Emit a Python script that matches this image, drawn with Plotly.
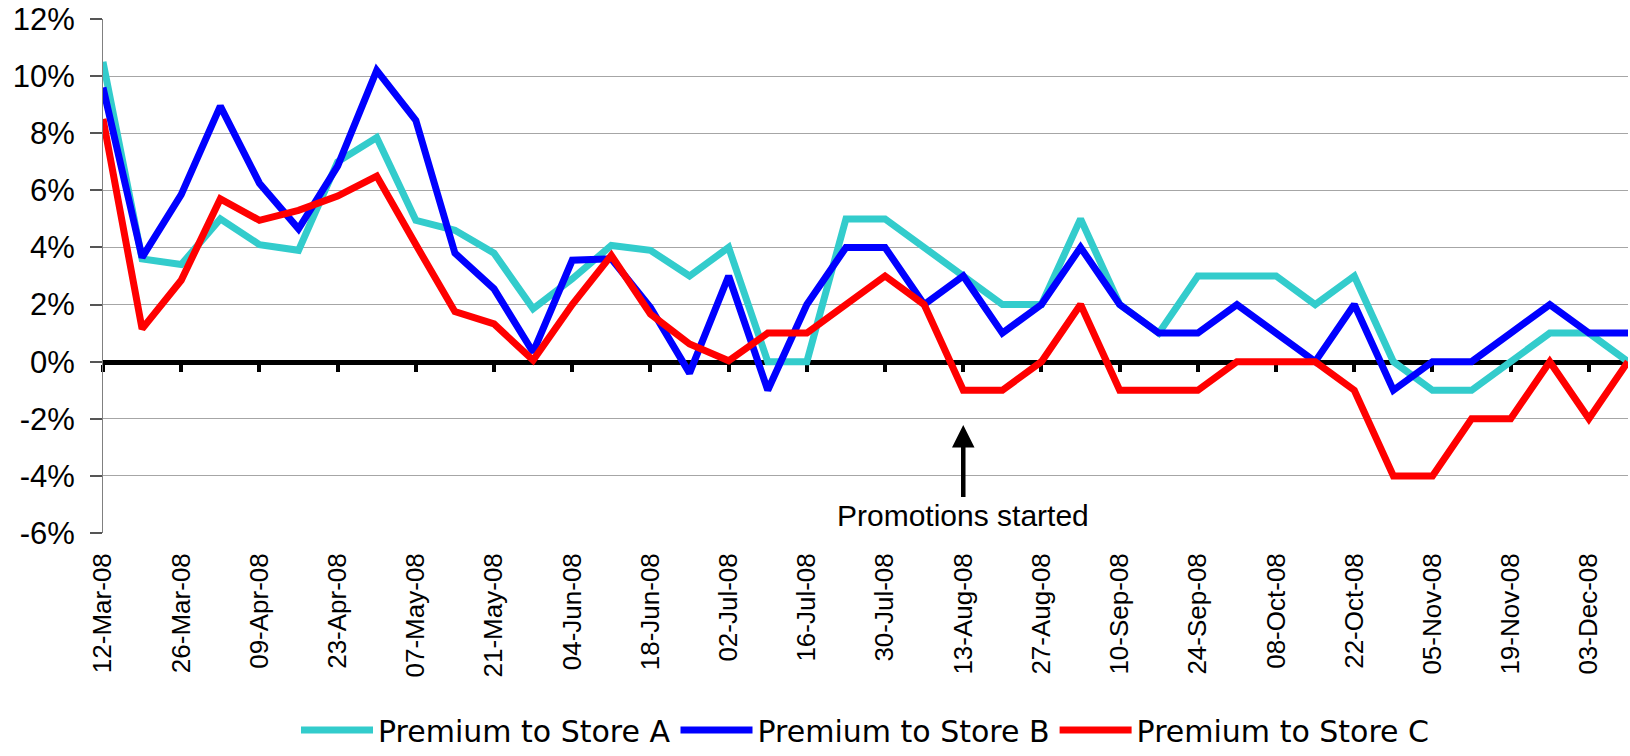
import plotly.graph_objects as go

weeks = ["2008-03-12", "2008-03-19", "2008-03-26", "2008-04-02", "2008-04-09",
         "2008-04-16", "2008-04-23", "2008-04-30", "2008-05-07", "2008-05-14",
         "2008-05-21", "2008-05-28", "2008-06-04", "2008-06-11", "2008-06-18",
         "2008-06-25", "2008-07-02", "2008-07-09", "2008-07-16", "2008-07-23",
         "2008-07-30", "2008-08-06", "2008-08-13", "2008-08-20", "2008-08-27",
         "2008-09-03", "2008-09-10", "2008-09-17", "2008-09-24", "2008-10-01",
         "2008-10-08", "2008-10-15", "2008-10-22", "2008-10-29", "2008-11-05",
         "2008-11-12", "2008-11-19", "2008-11-26", "2008-12-03", "2008-12-10"]

tick_labels = ["12-Mar-08", "26-Mar-08", "09-Apr-08", "23-Apr-08", "07-May-08",
               "21-May-08", "04-Jun-08", "18-Jun-08", "02-Jul-08", "16-Jul-08",
               "30-Jul-08", "13-Aug-08", "27-Aug-08", "10-Sep-08", "24-Sep-08",
               "08-Oct-08", "22-Oct-08", "05-Nov-08", "19-Nov-08", "03-Dec-08"]
tick_dates = weeks[::2]

store_a = [10.5, 3.6, 3.4, 5.0, 4.1, 3.9, 7.0, 7.85, 4.95, 4.6,
           3.8, 1.85, 2.9, 4.07, 3.9, 3.0, 4.0, 0.0, 0.0, 5.0,
           5.0, 4.0, 3.0, 2.0, 2.0, 5.0, 2.0, 1.0, 3.0, 3.0,
           3.0, 2.0, 3.0, 0.0, -1.0, -1.0, 0.0, 1.0, 1.0, 0.0]
store_b = [9.6, 3.65, 5.85, 8.95, 6.25, 4.65, 6.85, 10.2, 8.45, 3.8,
           2.55, 0.33, 3.55, 3.6, 1.9, -0.4, 3.0, -1.0, 2.0, 4.0,
           4.0, 2.0, 3.0, 1.0, 2.0, 4.0, 2.0, 1.0, 1.0, 2.0,
           1.0, 0.0, 2.0, -1.0, 0.0, 0.0, 1.0, 2.0, 1.0, 1.0]
store_c = [8.5, 1.15, 2.85, 5.7, 4.95, 5.3, 5.8, 6.5, 4.1, 1.75,
           1.32, 0.05, 2.0, 3.72, 1.67, 0.62, 0.03, 1.0, 1.0, 2.0,
           3.0, 2.0, -1.0, -1.0, 0.0, 2.0, -1.0, -1.0, -1.0, 0.0,
           0.0, 0.0, -1.0, -4.0, -4.0, -2.0, -2.0, 0.0, -2.0, 0.0]

series = [("Premium to Store A", store_a, "#33CCCC"),
          ("Premium to Store B", store_b, "#0000FF"),
          ("Premium to Store C", store_c, "#FF0000")]

y_ticks = [-6, -4, -2, 0, 2, 4, 6, 8, 10, 12]
y_tick_labels = ["-6%", "-4%", "-2%", "0%", "2%", "4%", "6%", "8%", "10%", "12%"]
y_min, y_max = -6, 12

fig = go.Figure()
for name, vals, col in series:
    fig.add_trace(go.Scatter(x=weeks, y=vals, name=name, mode="lines",
                             line=dict(color=col, width=7),
                             hoverinfo="skip"))

# invisible helper trace so that the zero-line axis is drawn
fig.add_trace(go.Scatter(x=[weeks[0]], y=[None], xaxis="x2", showlegend=False,
                         hoverinfo="skip", mode="lines"))

fig.update_layout(
    width=1630, height=756,
    margin=dict(l=103, r=2, t=19, b=223, autoexpand=False),
    paper_bgcolor="white", plot_bgcolor="white",
    font=dict(family="Liberation Sans", color="black"),
    showlegend=True,
    legend=dict(orientation="h", x=0.5, xanchor="center",
                yref="container", y=-0.008, yanchor="bottom",
                font=dict(family="DejaVu Sans", size=30, color="black"),
                itemwidth=72, bgcolor="rgba(0,0,0,0)"),
    xaxis=dict(type="date", range=[weeks[0], weeks[-1]],
               tickvals=tick_dates, ticktext=tick_labels, tickangle=-90,
               tickfont=dict(family="Liberation Sans", size=26, color="black"),
               ticks="", showgrid=False, zeroline=False, showline=False,
               ticklabelstandoff=14, automargin=False),
    xaxis2=dict(type="date", range=[weeks[0], weeks[-1]], overlaying="x",
                anchor="free", position=(0 - y_min) / (y_max - y_min), side="bottom",
                tickvals=tick_dates, showticklabels=False,
                ticks="outside", ticklen=7, tickwidth=4, tickcolor="black",
                showline=True, linecolor="black", linewidth=5,
                showgrid=False, zeroline=False, layer="below traces"),
    yaxis=dict(range=[y_min, y_max], tickvals=y_ticks, ticktext=y_tick_labels,
               tickfont=dict(family="Liberation Sans", size=31, color="black"),
               ticks="outside", ticklen=12, tickcolor="#555555", tickwidth=1.5,
               showgrid=True, gridcolor="#A6A6A6", gridwidth=1,
               showline=True, linecolor="#808080", linewidth=1,
               zeroline=False, ticklabelstandoff=9, automargin=False),
    annotations=[dict(x="2008-08-13", y=-2.22, xref="x", yref="y",
                      text="Promotions started", showarrow=True,
                      arrowhead=2, arrowsize=1, arrowwidth=4.5, arrowcolor="black",
                      ax=0, ay=90,
                      font=dict(family="Liberation Sans", size=30, color="black"))],
)

fig.write_html("out.html")
